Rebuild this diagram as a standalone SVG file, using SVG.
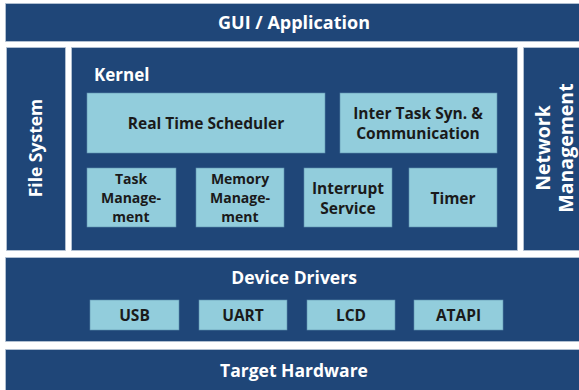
<svg xmlns="http://www.w3.org/2000/svg" width="579" height="390" viewBox="0 0 579 390">
<style>
.dark{fill:#1f4678;stroke:#b9c6d6;stroke-width:0.8}
.light{fill:#92cddc;stroke:#5f8fb0;stroke-width:0.6}
.wt{font-family:"Open Sans","Noto Sans",sans-serif;font-weight:bold;font-size:17.5px;fill:#ffffff;text-anchor:middle;dominant-baseline:central}
.bt{font-family:"Open Sans","Noto Sans",sans-serif;font-weight:bold;font-size:15.5px;fill:#1a1a1a;text-anchor:middle;dominant-baseline:central}
.bs{font-size:14px}
</style>
<rect width="579" height="390" fill="#ffffff"/>
<g id="gui"><rect class="dark" x="5.5" y="3.5" width="580" height="38"/><text class="wt" x="294" y="22" style="font-size:18px">GUI / Application</text></g>
<g id="filesystem"><rect class="dark" x="6.5" y="47.5" width="59" height="203"/><text class="wt" transform="translate(35,148) rotate(-90)">File System</text></g>
<g id="kernel"><rect class="dark" x="71.5" y="47.5" width="446" height="203"/><text class="wt" x="94" y="74" style="text-anchor:start;font-size:17px">Kernel</text></g>
<g id="network"><rect class="dark" x="523.5" y="47.5" width="60" height="203"/><text class="wt" transform="translate(553,148) rotate(-90)" style="font-size:19.5px"><tspan x="0" y="-11">Network</tspan><tspan x="0" y="12">Management</tspan></text></g>
<g id="rts"><rect class="light" x="87" y="93" width="238" height="60"/><text class="bt" x="206" y="123">Real Time Scheduler</text></g>
<g id="intertask"><rect class="light" x="340" y="93" width="157" height="60"/><text class="bt" x="418" y="113">Inter Task Syn. &amp;</text><text class="bt" x="418" y="133">Communication</text></g>
<g id="taskmgmt"><rect class="light" x="87" y="168" width="89" height="59"/><text class="bt bs" x="131" y="178">Task</text><text class="bt bs" x="131" y="197">Manage-</text><text class="bt bs" x="131" y="216">ment</text></g>
<g id="memmgmt"><rect class="light" x="196" y="168" width="88" height="59"/><text class="bt bs" x="240" y="178">Memory</text><text class="bt bs" x="240" y="197">Manage-</text><text class="bt bs" x="240" y="216">ment</text></g>
<g id="interrupt"><rect class="light" x="304" y="168" width="88" height="59"/><text class="bt" x="348" y="188">Interrupt</text><text class="bt" x="348" y="208">Service</text></g>
<g id="timer"><rect class="light" x="409" y="168" width="88" height="59"/><text class="bt" x="453" y="198">Timer</text></g>
<g id="devicedrivers"><rect class="dark" x="5.5" y="257.5" width="580" height="84"/><text class="wt" x="294" y="277">Device Drivers</text></g>
<g id="usb"><rect class="light" x="90" y="300" width="89" height="30"/><text class="bt" x="134.5" y="315">USB</text></g>
<g id="uart"><rect class="light" x="199" y="300" width="88" height="30"/><text class="bt" x="243" y="315">UART</text></g>
<g id="lcd"><rect class="light" x="307" y="300" width="88" height="30"/><text class="bt" x="351" y="315">LCD</text></g>
<g id="atapi"><rect class="light" x="414" y="300" width="89" height="30"/><text class="bt" x="458.5" y="315">ATAPI</text></g>
<g id="hardware"><rect class="dark" x="5.5" y="349.5" width="580" height="44"/><text class="wt" x="294" y="370">Target Hardware</text></g>
<g id="connectors"></g>
</svg>
